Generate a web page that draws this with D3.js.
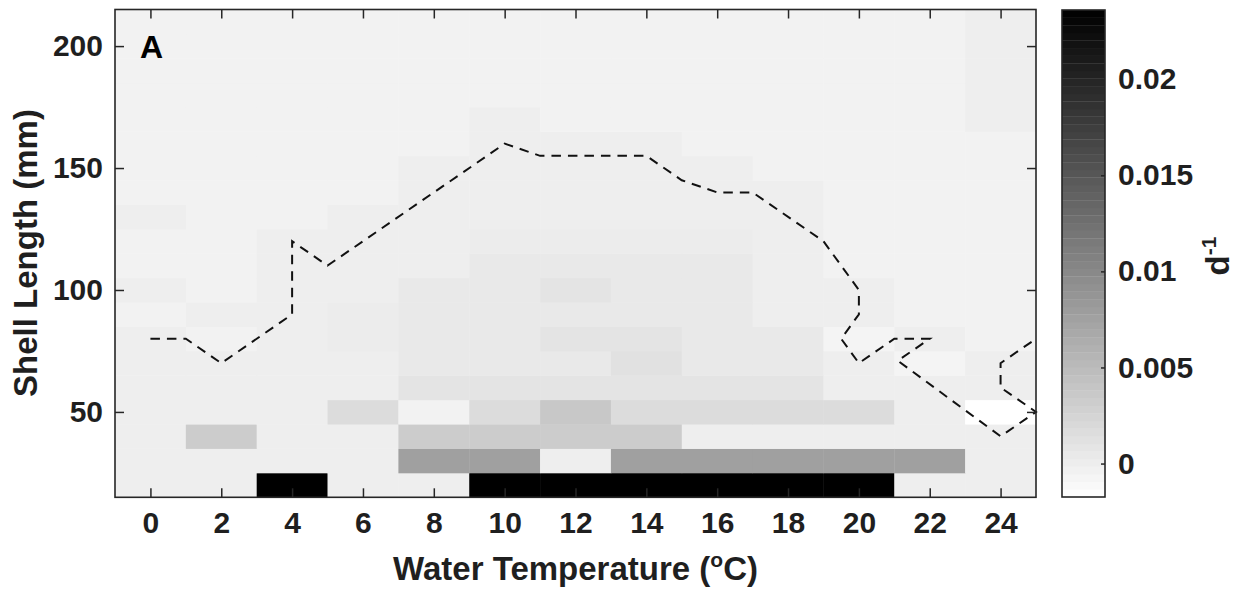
<!DOCTYPE html>
<html><head><meta charset="utf-8">
<script src="https://cdn.jsdelivr.net/npm/d3@7"></script>
<style>
body{margin:0;background:#fff}
text{font-family:"Liberation Sans",Arial,Helvetica,sans-serif;font-weight:bold;fill:#1f1f1f}
</style>
</head><body>
<svg id="chart" width="1241" height="592"></svg>
<script>
// ---- data ----
const temperatures = [0,2,4,6,8,10,12,14,16,18,20,22,24];           // cell centres (°C), 2 °C wide
const shellLengths = [20,30,40,50,60,70,80,90,100,110,120,130,140,150,160,170,180,190,200,210]; // cell centres (mm), 10 mm tall
// rate (d^-1), one row per shell length (bottom to top), one value per temperature
const rates = [
  [-0.00005,-0.00005,0.0245,-0.00005,-0.00005,0.0245,0.0245,0.0245,0.0245,0.0245,0.0245,-0.00005,-0.00005],
  [-0.00005,-0.00005,-0.00005,-0.00005,0.0077,0.0077,-0.00005,0.0077,0.0077,0.0077,0.0077,0.0077,-0.00005],
  [-0.00005,0.00333,-0.00005,-0.00005,0.00333,0.00333,0.00333,0.00333,-0.00005,-0.00005,-0.00005,-0.00005,-0.00005],
  [-0.00005,-0.00005,-0.00005,0.00174,-0.00045,0.00174,0.00373,0.00174,0.00174,0.00174,0.00174,-0.00005,-0.0018],
  [-0.00005,-0.00005,-0.00005,-0.00005,0.00094,0.00094,0.00094,0.00094,0.00094,0.00094,-0.00005,-0.00005,-0.00005],
  [-0.00005,-0.00005,-0.00005,-0.00005,0.00045,0.00045,0.00045,0.00124,0.00045,0.00045,-0.00005,-0.00065,-0.00005],
  [-0.00005,-0.00045,-0.00005,0.00015,0.00045,0.00045,0.00094,0.00094,0.00045,0.00045,-0.00065,-0.00005,-0.00045],
  [-0.00045,-0.00005,-0.00005,0.00015,0.00045,0.00045,0.00045,0.00045,0.00045,-0.00005,-0.00005,-0.00045,-0.00045],
  [-0.00005,-0.00045,-0.00005,-0.00005,0.00045,0.00045,0.00094,0.00045,0.00045,-0.00005,-0.00005,-0.00045,-0.00045],
  [-0.00045,-0.00045,-0.00005,-0.00005,-0.00005,0.00045,0.00045,0.00045,0.00045,-0.00005,-0.00045,-0.00045,-0.00045],
  [-0.00045,-0.00045,-0.00005,-0.00005,-0.00005,0.00015,0.00015,0.00015,0.00015,-0.00005,-0.00045,-0.00045,-0.00045],
  [-0.00005,-0.00045,-0.00045,-0.00005,-0.00005,-0.00005,-0.00005,-0.00005,-0.00005,-0.00005,-0.00045,-0.00045,-0.00045],
  [-0.00045,-0.00045,-0.00045,-0.00045,-0.00005,-0.00005,-0.00005,-0.00005,-0.00005,-0.00005,-0.00045,-0.00045,-0.00045],
  [-0.00045,-0.00045,-0.00045,-0.00045,-0.00005,-0.00005,-0.00005,-0.00005,-0.00005,-0.00045,-0.00045,-0.00045,-0.00045],
  [-0.00045,-0.00045,-0.00045,-0.00045,-0.00045,-0.00005,-0.00005,-0.00005,-0.00045,-0.00045,-0.00045,-0.00045,-0.00045],
  [-0.00045,-0.00045,-0.00045,-0.00045,-0.00045,-0.00005,-0.00045,-0.00045,-0.00045,-0.00045,-0.00045,-0.00045,-0.00005],
  [-0.00045,-0.00045,-0.00045,-0.00045,-0.00045,-0.00045,-0.00045,-0.00045,-0.00045,-0.00045,-0.00045,-0.00045,-0.00005],
  [-0.00045,-0.00045,-0.00045,-0.00045,-0.00045,-0.00045,-0.00045,-0.00045,-0.00045,-0.00045,-0.00045,-0.00045,-0.00005],
  [-0.00045,-0.00045,-0.00045,-0.00045,-0.00045,-0.00045,-0.00045,-0.00045,-0.00045,-0.00045,-0.00045,-0.00045,-0.00005],
  [-0.00045,-0.00045,-0.00045,-0.00045,-0.00045,-0.00045,-0.00045,-0.00045,-0.00045,-0.00045,-0.00045,-0.00045,-0.00005]
];
// dashed contour line (temperature °C, shell length mm)
const contourT = [0,1,2,4,4,5,10,11,14,15,16,17,19,20,20,19.5,20,21,22,21.1,24,25,24,24,25];
const contourL = [80,80,70,90,120,110,160,155,155,145,140,140,120,100,90,80,70,80,80,71,40,50,60,70,80];
const xTicks = [0,2,4,6,8,10,12,14,16,18,20,22,24];
const yTicks = [50,100,150,200];
const cbTicks = [0,0.005,0.01,0.015,0.02];
const colorLimits = [-0.00174,0.0236];

// ---- drawing ----
const svg = d3.select("#chart");
const x = d3.scaleLinear().domain([-1,25]).range([115,1036]);
const y = d3.scaleLinear().domain([15,215]).range([497.3,9.5]);
const color = d3.scaleLinear().domain(colorLimits).range(["#ffffff","#000000"]).clamp(true);

const cells = [];
shellLengths.forEach((L,i)=>temperatures.forEach((T,j)=>cells.push({T,L,v:rates[i][j]})));
svg.append("g").selectAll("rect").data(cells).join("rect")
  .attr("x",d=>x(d.T-1)).attr("width",d=>x(d.T+1)-x(d.T-1)+0.4)
  .attr("y",d=>y(d.L+5)).attr("height",d=>y(d.L-5)-y(d.L+5)+0.4)
  .attr("fill",d=>color(d.v));

const pts = contourT.map((t,i)=>[t,contourL[i]]);
svg.append("path").datum(pts)
  .attr("d",d3.line().x(d=>x(d[0])).y(d=>y(d[1])))
  .attr("fill","none").attr("stroke","#111").attr("stroke-width",2)
  .attr("stroke-dasharray","9.5,7");

const axisStyle = g=>{g.select(".domain").remove();
  g.selectAll(".tick line").attr("stroke","#262626").attr("stroke-width",1.5);
  g.selectAll(".tick text").style("font-size","30px").attr("fill","#1f1f1f");};
svg.append("g").attr("transform","translate(0,497.3)")
  .call(d3.axisBottom(x).tickValues(xTicks).tickSize(-9).tickPadding(14)).call(axisStyle);
svg.append("g").attr("transform","translate(0,9.5)")
  .call(d3.axisTop(x).tickValues(xTicks).tickSize(-9).tickFormat("")).call(axisStyle);
svg.append("g").attr("transform","translate(115,0)")
  .call(d3.axisLeft(y).tickValues(yTicks).tickSize(-9).tickPadding(12)).call(axisStyle);
svg.append("g").attr("transform","translate(1036,0)")
  .call(d3.axisRight(y).tickValues(yTicks).tickSize(-9).tickFormat("")).call(axisStyle);
svg.append("rect").attr("x",115).attr("y",9.5).attr("width",921).attr("height",487.8)
  .attr("fill","none").attr("stroke","#262626").attr("stroke-width",1.6);

svg.append("text").attr("x",140).attr("y",58).style("font-size","32px").style("fill","#000").text("A");

svg.append("text").attr("x",575.5).attr("y",580).attr("text-anchor","middle").style("font-size","33px")
  .call(t=>{t.append("tspan").text("Water Temperature (");
    t.append("tspan").attr("dy",-13).style("font-size","21px").text("o");
    t.append("tspan").attr("dy",13).text("C)");});
svg.append("text").attr("transform","translate(37,253) rotate(-90)").attr("text-anchor","middle")
  .style("font-size","33px").text("Shell Length (mm)");

// colorbar
const cb = d3.scaleLinear().domain(colorLimits).range([497,10]);
const nSteps = 64, stepV = (colorLimits[1]-colorLimits[0])/nSteps;
svg.append("g").selectAll("rect").data(d3.range(nSteps)).join("rect")
  .attr("x",1062).attr("width",43)
  .attr("y",i=>cb(colorLimits[0]+(i+1)*stepV)).attr("height",i=>cb(colorLimits[0]+i*stepV)-cb(colorLimits[0]+(i+1)*stepV)+0.3)
  .attr("fill",i=>color(colorLimits[0]+(i+0.5)*stepV));
svg.append("g").attr("transform","translate(1105,0)")
  .call(d3.axisRight(cb).tickValues(cbTicks).tickSize(-4).tickPadding(13).tickFormat(d=>String(d))).call(axisStyle);
svg.append("rect").attr("x",1062).attr("y",10).attr("width",43).attr("height",487)
  .attr("fill","none").attr("stroke","#262626").attr("stroke-width",1.6);
svg.append("text").attr("transform","translate(1229,256) rotate(-90)").attr("text-anchor","middle")
  .style("font-size","33px")
  .call(t=>{t.append("tspan").text("d");
    t.append("tspan").attr("dy",-13).style("font-size","21px").text("-1");});
</script>
</body></html>
